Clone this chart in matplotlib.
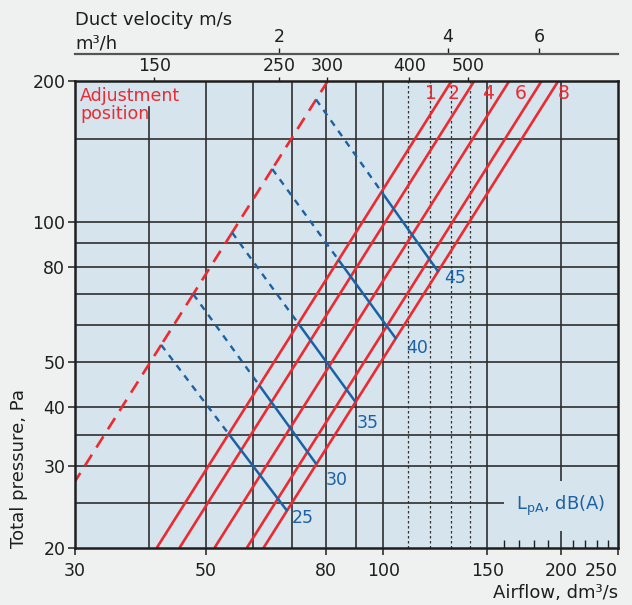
import numpy as np
import matplotlib
matplotlib.use("Agg")
import matplotlib.pyplot as plt
from matplotlib.ticker import NullLocator, NullFormatter

# adjustment positions: airflow (dm3/s) where each line reaches 200 Pa
positions = ["1", "2", "4", "6", "8"]
position_q200 = [130.5, 142.6, 163.5, 185.5, 198.0]
limit_q200 = 80.5  # dashed limit of the adjustment range

# sound level lines LpA, dB(A): start on the limit line, end on position 8
sound_levels = ["25", "30", "35", "40", "45"]
sound_top_q = [42.0, 47.6, 55.4, 64.8, 76.9]
sound_end_q = [68.7, 76.9, 89.7, 105.2, 124.0]
sound_end_p = [24.0, 30.3, 41.1, 56.0, 78.0]

x_ticks = [30, 50, 80, 100, 150, 200, 250]
y_ticks = [20, 30, 40, 50, 80, 100, 200]
grid_x = [40, 50, 60, 70, 80, 90, 100, 150, 200]
grid_x_dotted = [110, 120, 130, 140]
grid_y = [25, 30, 35, 40, 50, 60, 70, 80, 90, 100, 150]
minor_x = [160, 170, 180, 190, 210, 220, 230, 240]

# top scales, at the airflow where the drawing puts them
m3h_labels = ["150", "250", "300", "400", "500"]
m3h_at = [40.9, 66.6, 80.4, 110.7, 139.4]
vel_labels = ["2", "4", "6"]
vel_at = [66.6, 128.5, 184.0]

red = "#ec2a30"
blue = "#1c62a3"
bg = "#d6e4ee"
page = "#eff1f1"
ink = "#1e1e1e"
gridc = "#2e2e2e"

fig = plt.figure(figsize=(6.32, 6.05), dpi=100, facecolor=page)
ax = fig.add_axes([75 / 632, 1 - 548 / 605, 543 / 632, 467 / 605])
ax.set_facecolor(bg)
ax.set_xscale("log")
ax.set_yscale("log")
ax.set_xlim(30, 250)
ax.set_ylim(20, 200)

# grid
for x in grid_x:
    top = 0.944 if x == 40 else 1
    ax.axvline(x, ymax=top, color=gridc, lw=1.2, zorder=1)
for x in grid_x_dotted:
    ax.axvline(x, color="#333333", lw=0.9, ls=(0, (2, 2)), zorder=1)
for y in grid_y:
    ax.axhline(y, color=gridc, lw=1.2, zorder=1)

# adjustment position lines, dp ~ q^2
p_span = np.array([20.0, 200.0])
for lab, q200 in zip(positions, position_q200):
    q = q200 * np.sqrt(p_span / 200)
    ax.plot(q, p_span, color=red, lw=1.9, zorder=3, solid_capstyle="butt")
    qt = q200 * np.sqrt(188 / 200)
    if lab == "8":
        ax.annotate(lab, (qt, 188), xytext=(5, 0), textcoords="offset points",
                    ha="left", va="center", color=red, fontsize=13.5)
    else:
        ax.annotate(lab, (qt, 188), xytext=(-5, 0), textcoords="offset points",
                    ha="right", va="center", color=red, fontsize=13.5)

# sound level lines
q1 = position_q200[0]
c1 = np.log10(200) - 2 * np.log10(q1)
corners = []
label_off = [(3.6, -5), (7, -11.5), (1, -15), (7, -6), (4, -4.5)]
for i, lev in enumerate(sound_levels):
    qt = sound_top_q[i]
    pt = 200 * (qt / limit_q200) ** 2
    qe, pe = sound_end_q[i], sound_end_p[i]
    corners.append((qt, pt))
    m = (np.log10(pe) - np.log10(pt)) / (np.log10(qe) - np.log10(qt))
    u = (np.log10(pt) - m * np.log10(qt) - c1) / (2 - m)
    qs = 10 ** u
    ps = 10 ** (c1 + 2 * u)
    ax.plot([qt, qs], [pt, ps], color=blue, lw=1.7, dashes=(2.8, 2.6), zorder=4)
    ax.plot([qs, qe], [ps, pe], color=blue, lw=1.8, zorder=4, solid_capstyle="butt")
    ax.annotate(lev, (qe, pe), xytext=label_off[i], textcoords="offset points",
                ha="left", va="center", color=blue, fontsize=12.5)

# dashed limit line, drawn piecewise down from each corner
pts = [(limit_q200, 200.0)] + corners[::-1] + [(30.0, 200 * (30 / limit_q200) ** 2)]
for (qa, pa), (qb, pb) in zip(pts[:-1], pts[1:]):
    ax.plot([qa, qb], [pa, pb], color=red, lw=1.9, dashes=(5, 3.2), zorder=3)

# texts inside
ax.text(0.009, 0.987, "Adjustment\nposition", transform=ax.transAxes, color=red,
        fontsize=12.5, ha="left", va="top", linespacing=1.0, zorder=5)
ax.text(200, 24.6, r"L$_{\mathregular{pA}}$, dB(A)", color=blue, fontsize=13,
        ha="center", va="center", zorder=5,
        bbox=dict(boxstyle="square,pad=0.7", fc=bg, ec="none"))

# axes, ticks
for s in ax.spines.values():
    s.set_linewidth(1.8)
    s.set_color(ink)
    s.set_zorder(6)
ax.set_xticks(x_ticks, [str(v) for v in x_ticks])
ax.set_xticks(minor_x, minor=True)
ax.xaxis.set_minor_formatter(NullFormatter())
ax.set_yticks(y_ticks, [str(v) for v in y_ticks])
ax.yaxis.set_minor_locator(NullLocator())
ax.tick_params(axis="both", which="major", labelsize=12.5, colors=ink, length=5, width=1.1)
ax.tick_params(axis="x", which="major", pad=5)
ax.tick_params(axis="y", which="major", pad=2)
ax.tick_params(axis="x", which="minor", direction="in", length=6, width=1.0, color=ink)
ax.get_xticklabels()[-1].set_ha("right")

ax.set_xlabel("Airflow, dm³/s", loc="right", fontsize=13, color=ink, labelpad=3)
ax.set_ylabel("Total pressure, Pa", loc="bottom", fontsize=13, color=ink, labelpad=3)

# m3/h scale on the frame top
sec = ax.secondary_xaxis("top")
sec.set_xticks(m3h_at, m3h_labels)
sec.xaxis.set_minor_locator(NullLocator())
sec.tick_params(length=3, width=1.0, pad=1.5, labelsize=12.5, colors=ink)
for s in sec.spines.values():
    s.set_visible(False)

# duct velocity scale above it
vel = ax.secondary_xaxis(1.058)
vel.set_xticks(vel_at, vel_labels)
vel.xaxis.set_minor_locator(NullLocator())
vel.tick_params(length=4, width=1.0, pad=2, labelsize=12.5, colors=ink)
vel.spines["top"].set_color("#555555")
vel.spines["top"].set_linewidth(1.6)

fig.text(75 / 632, 1 - 20 / 605, "Duct velocity m/s", fontsize=13, color=ink,
         ha="left", va="center")
fig.text(75 / 632, 1 - 44 / 605, "m³/h", fontsize=13, color=ink,
         ha="left", va="center")

fig.savefig("out.png", dpi=100, facecolor=page)
